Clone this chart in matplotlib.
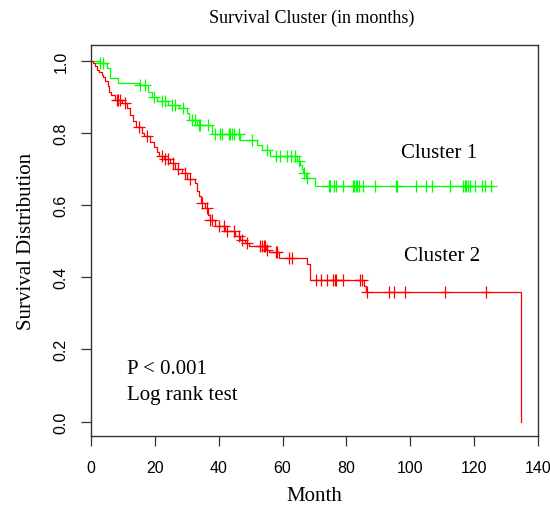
import numpy as np
import matplotlib
matplotlib.use("Agg")
import matplotlib.pyplot as plt

# Cluster 1 (green): step times and survival after each step
c1_time = [0, 2.7, 4.9, 6.0, 8.5, 14.9, 18.0, 19.0, 20.6, 24.2, 27.5, 30.0, 30.8, 33.2,
           37.9, 46.8, 52.0, 53.6, 56.2, 64.6, 65.6, 66.1, 66.4, 67.2, 70.3, 125.4]
c1_surv = [1.0, 0.994, 0.98, 0.953, 0.94, 0.932, 0.915, 0.901, 0.888, 0.878, 0.868, 0.855,
           0.837, 0.822, 0.796, 0.782, 0.768, 0.754, 0.735, 0.722, 0.712, 0.699, 0.69,
           0.676, 0.654, 0.654]
c1_cens = [2.7, 3.7, 15.4, 16.9, 19.6, 22.2, 23.2, 25.4, 26.4, 28.8, 31.6, 32.6, 33.7, 34.2,
           36.8, 38.9, 40.5, 41.0, 43.1, 43.6, 44.2, 44.7, 46.2, 50.4, 55.1, 57.8, 59.3,
           61.4, 62.5, 64.0, 65.1, 66.6, 67.7, 74.5, 75.0, 76.1, 76.6, 79.0, 82.1, 82.5,
           82.9, 83.4, 83.9, 85.3, 89.1, 95.4, 95.7, 101.7, 104.8, 106.7, 112.4, 116.5,
           117.0, 117.6, 118.1, 118.6, 120.2, 122.6, 123.3, 125.4]

# Cluster 2 (red)
c2_time = [0, 0.7, 1.3, 1.8, 2.5, 3.3, 3.9, 4.4, 5.2, 5.6, 6.3, 7.5, 9.6, 11.2, 12.2, 13.3,
           14.0, 15.9, 16.7, 18.5, 19.6, 20.6, 21.3, 22.9, 24.8, 26.4, 28.5, 30.0, 32.6,
           33.2, 33.7, 34.3, 35.8, 36.8, 37.2, 38.9, 42.1, 45.2, 46.8, 48.3, 49.4, 54.9,
           55.7, 58.8, 67.7, 68.5, 85.5, 86.0, 134.6]
c2_surv = [1.0, 0.994, 0.985, 0.976, 0.968, 0.961, 0.955, 0.943, 0.929, 0.915, 0.906, 0.892,
           0.883, 0.87, 0.851, 0.833, 0.818, 0.801, 0.792, 0.774, 0.76, 0.746, 0.736,
           0.727, 0.717, 0.699, 0.69, 0.672, 0.662, 0.639, 0.625, 0.607, 0.593, 0.574,
           0.56, 0.542, 0.528, 0.514, 0.503, 0.496, 0.487, 0.476, 0.471, 0.454, 0.436,
           0.393, 0.376, 0.358, 0.0]
c2_cens = [8.1, 8.6, 9.1, 10.6, 14.9, 17.5, 22.2, 23.2, 24.2, 25.8, 27.4, 29.5, 31.1, 34.7,
           36.3, 37.4, 37.9, 40.0, 41.5, 42.6, 44.7, 46.2, 47.3, 48.9, 53.0, 53.6, 54.1,
           54.6, 55.2, 57.8, 58.3, 61.9, 63.0, 70.6, 71.9, 74.0, 75.9, 76.3, 76.6, 78.9,
           84.4, 85.0, 86.5, 93.3, 94.9, 98.3, 110.9, 123.7]

x_ticks = [0, 20, 40, 60, 80, 100, 120, 140]
y_ticks = [0.0, 0.2, 0.4, 0.6, 0.8, 1.0]


def surv_at(times, surv, t):
    idx = np.searchsorted(times, t, side="right") - 1
    return np.array(surv)[idx]


fig = plt.figure(figsize=(5.5, 5.06), dpi=100)
ax = fig.add_axes([91 / 550, 1 - 437 / 506, 447 / 550, 391 / 506])

serif = "Liberation Serif"
sans = "Liberation Sans"
fs = 15

for t, s, c, col in [(c1_time, c1_surv, c1_cens, "#00ff00"),
                     (c2_time, c2_surv, c2_cens, "#ff0000")]:
    ax.step(t, s, where="post", color=col, lw=0.9)
    ax.plot(c, surv_at(t, s, c), "+", color=col, ms=8, mew=0.9, linestyle="none")

ax.set_xlim(0, 140)
ax.set_ylim(-0.04, 1.044)
ax.set_xticks(x_ticks)
ax.set_yticks(y_ticks)
ax.set_xticklabels([str(v) for v in x_ticks], fontfamily=sans, fontsize=11.5)
ax.set_yticklabels(["%.1f" % v for v in y_ticks], fontfamily=sans, fontsize=11.5,
                   rotation=90, va="center")
ax.tick_params(length=7, width=0.9, color="#333333")
ax.tick_params(axis="x", pad=10)
ax.tick_params(axis="y", pad=9)
for sp in ax.spines.values():
    sp.set_color("#333333")
    sp.set_linewidth(1.0)

ax.set_xlabel("Month", fontfamily=serif, fontsize=fs, labelpad=8)
ax.set_ylabel("Survival Distribution", fontfamily=serif, fontsize=fs, labelpad=13)
fig.text(0.566, 1 - 18 / 506, "Survival Cluster (in months)", fontfamily=serif,
         fontsize=13, ha="center", va="center")

ax.text(97, 0.746, "Cluster 1", fontfamily=serif, fontsize=fs, va="center")
ax.text(98, 0.461, "Cluster 2", fontfamily=serif, fontsize=fs, va="center")
ax.text(11.3, 0.146, "P < 0.001", fontfamily=serif, fontsize=fs, va="center")
ax.text(11.3, 0.074, "Log rank test", fontfamily=serif, fontsize=fs, va="center")

fig.savefig("out.png", dpi=100)
